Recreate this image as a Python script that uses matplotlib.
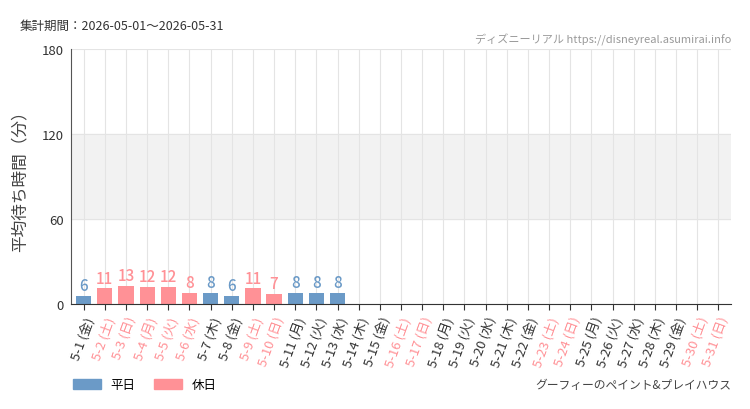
import matplotlib
matplotlib.use("Agg")
import matplotlib.pyplot as plt
from matplotlib.patches import Patch

plt.rcParams['font.family'] = ['Noto Sans CJK JP', 'DejaVu Sans']

days = [f"5-{d}" for d in range(1, 32)]
weekdays = ["金","土","日","月","火","水","木"]
wd = [weekdays[(d) % 7] for d in range(31)]
holidays = [2,3,4,5,6,9,10,16,17,23,24,30,31]
values = [6,11,13,12,12,8,8,6,11,7,8,8,8] + [None]*18
labels = [f"{d} ({w})" for d, w in zip(days, wd)]

blue = "#6b9ac7"
pink = "#ff9196"

fig = plt.figure(figsize=(7.5, 4.1), dpi=100)
ax = fig.add_axes([71/750, 1-305/410, 660/750, 255/410])
ax.axhspan(60, 120, color="#f2f2f2", zorder=0)
x = list(range(31))
for i, v in enumerate(values):
    hol = (i+1) in holidays
    c = pink if hol else blue
    if v is not None:
        ax.bar(i, v, width=0.72, color=c, zorder=2)
        ax.text(i, v+1.2, str(v), ha="center", va="bottom", color=c, fontsize=11,
                fontweight="medium", fontstretch="condensed")
ax.set_xlim(-0.6, 30.6)
ax.set_ylim(0, 180)
ax.set_yticks([0, 60, 120, 180])
ax.set_yticklabels(["0", "60", "120", "180"], fontsize=9.5, color="#333")
ax.set_xticks(x)
ax.set_xticklabels(labels, rotation=70, ha="right", rotation_mode="anchor", fontsize=9.5)
for i, t in enumerate(ax.get_xticklabels()):
    t.set_color(pink if (i+1) in holidays else "#333")
ax.grid(axis="x", color="#e4e4e4", lw=0.8, zorder=1)
ax.grid(axis="y", color="#e4e4e4", lw=0.8, zorder=1)
ax.set_axisbelow(True)
for s in ["top", "right"]:
    ax.spines[s].set_visible(False)
ax.spines["left"].set_color("#555")
ax.spines["bottom"].set_color("#333")
ax.tick_params(axis="y", length=0, pad=5)
ax.tick_params(axis="x", length=4, color="#333")
ax.set_ylabel("平均待ち時間（分）", fontsize=12, color="#444", labelpad=10)

fig.text(20/750, 1-26/410, "集計期間：2026-05-01〜2026-05-31", fontsize=9, color="#333", va="center")
fig.text(731/750, 1-40/410, "ディズニーリアル https://disneyreal.asumirai.info", fontsize=8, color="#999", ha="right", va="center")
fig.text(731/750, 1-386/410, "グーフィーのペイント&プレイハウス", fontsize=8.5, color="#444", ha="right", va="center")
fig.legend(handles=[Patch(color=blue, label="平日"), Patch(color=pink, label="休日")],
           loc="center left", bbox_to_anchor=(68/750, 1-386/410), ncol=2, frameon=False,
           fontsize=9, handlelength=2.2, handleheight=0.8, borderaxespad=0, columnspacing=1.5)
fig.savefig("out.png", dpi=100)
